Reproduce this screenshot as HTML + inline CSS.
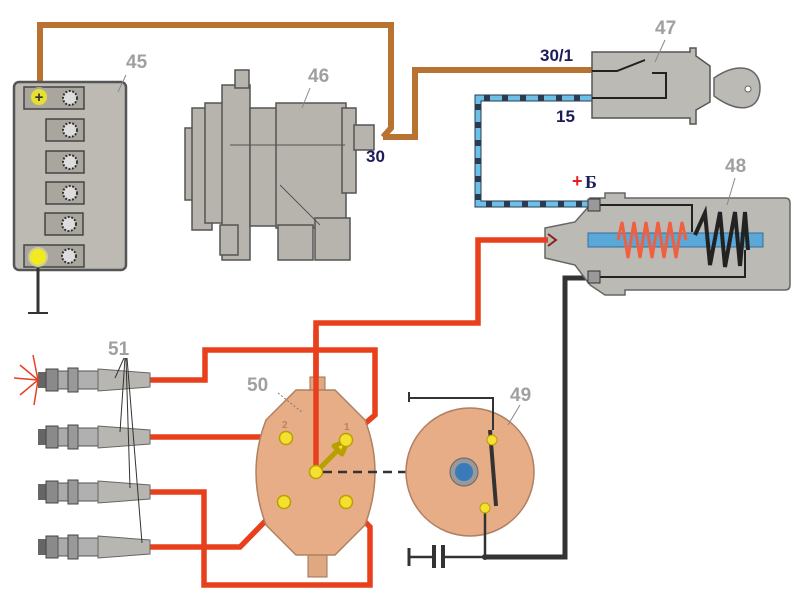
<!DOCTYPE html>
<html><head><meta charset="utf-8"><style>
html,body{margin:0;padding:0;background:#fff;}
svg{display:block;}
.n{font-family:"Liberation Sans",sans-serif;font-weight:bold;font-size:19px;fill:#a0a0a0;}
.t{font-family:"Liberation Sans",sans-serif;font-weight:bold;font-size:17px;fill:#1c1c5a;}
</style></head><body>
<svg width="800" height="600" viewBox="0 0 800 600" xmlns="http://www.w3.org/2000/svg">
<defs>
<g id="plug">
<rect x="38" y="-8" width="10" height="16" fill="#666"/>
<rect x="46" y="-11" width="12" height="22" fill="#8a8a8a" stroke="#444"/>
<rect x="58" y="-9" width="10" height="18" fill="#aaa" stroke="#555"/>
<rect x="68" y="-12" width="10" height="24" fill="#999" stroke="#444"/>
<rect x="78" y="-9" width="20" height="18" fill="#b0b0b0" stroke="#555"/>
<path d="M98,-11 L150,-7 L150,7 L98,11 Z" fill="#b8b6b0" stroke="#666"/>
</g>
</defs>
<!-- brown wires -->
<g fill="none" stroke="#b87333" stroke-width="6" stroke-linejoin="miter">
<polyline points="40,90 40,25 391,25 391,128 383,137"/>
<polyline points="383,137 415,137 415,70 592,70"/>
</g>
<!-- blue wire -->
<polyline points="592,98 478,98 478,204 592,204" fill="none" stroke="#2a3a50" stroke-width="7"/>
<polyline points="592,98 478,98 478,204 592,204" fill="none" stroke="#6cc0e8" stroke-width="5" stroke-dasharray="12,6"/>
<!-- dark wire coil to breaker -->
<polyline points="595,278 565,278 565,557 485,557" fill="none" stroke="#333" stroke-width="5"/>

<!-- battery -->
<rect x="14" y="82" width="112" height="188" rx="5" fill="#bdbab3" stroke="#555" stroke-width="2.5"/>
<g fill="#aaa69e" stroke="#444" stroke-width="1.5">
<rect x="24" y="87" width="60" height="22"/><rect x="46" y="119" width="38" height="22"/>
<rect x="46" y="151" width="38" height="22"/><rect x="46" y="182" width="38" height="22"/>
<rect x="45" y="213" width="38" height="22"/><rect x="24" y="245" width="60" height="22"/>
</g>
<g fill="#ddd" stroke="#333" stroke-width="2" stroke-dasharray="2,1.5">
<circle cx="70" cy="98" r="7"/><circle cx="70" cy="130" r="7"/><circle cx="70" cy="162" r="7"/>
<circle cx="70" cy="193" r="7"/><circle cx="69" cy="224" r="7"/><circle cx="69" cy="256" r="7"/>
</g>
<circle cx="39" cy="97" r="9" fill="#e8e030" stroke="#aa9" stroke-width="2"/>
<text x="39" y="102" text-anchor="middle" font-family="Liberation Sans" font-weight="bold" font-size="15" fill="#333">+</text>
<circle cx="38" cy="257" r="9" fill="#f2ea20" stroke="#cc9" stroke-width="2"/>
<line x1="38" y1="268" x2="38" y2="312" stroke="#333" stroke-width="3"/>
<line x1="28" y1="313" x2="48" y2="313" stroke="#333" stroke-width="2"/>
<text class="n" x="126" y="68">45</text><line x1="126" y1="75" x2="118" y2="92" stroke="#888"/>

<!-- alternator -->
<g fill="#b7b4ad" stroke="#555" stroke-width="1.5">
<rect x="185" y="128" width="10" height="72"/>
<rect x="192" y="108" width="20" height="122"/>
<rect x="205" y="103" width="20" height="120"/>
<rect x="222" y="85" width="28" height="175"/>
<rect x="235" y="70" width="14" height="18"/>
<rect x="250" y="108" width="30" height="118"/>
<rect x="276" y="103" width="70" height="125"/>
<rect x="342" y="108" width="14" height="85"/>
<rect x="354" y="125" width="20" height="25"/>
<rect x="278" y="225" width="35" height="35"/>
<rect x="315" y="218" width="35" height="42"/>
<rect x="220" y="225" width="18" height="30"/>
</g>
<line x1="230" y1="145" x2="345" y2="145" stroke="#555"/>
<line x1="280" y1="185" x2="320" y2="225" stroke="#555"/>
<text class="n" x="308" y="82">46</text><line x1="310" y1="88" x2="302" y2="108" stroke="#888"/>
<text class="t" x="366" y="162">30</text>

<!-- ignition switch 47 -->
<path d="M592,52 L690,52 L690,48 L696,48 L696,56 L710,66 L710,102 L696,110 L696,124 L690,124 L690,118 L592,118 Z" fill="#bcbab4" stroke="#555" stroke-width="1.5"/>
<path d="M714,78 C740,60 760,68 760,88 C760,110 740,115 714,96 Z" fill="#bcbab4" stroke="#666" stroke-width="1.5"/>
<circle cx="748" cy="89" r="3" fill="#fff" stroke="#666"/>
<polyline points="592,71 617,71 645,60" fill="none" stroke="#222" stroke-width="2"/>
<polyline points="652,73 666,73 666,98 592,98" fill="none" stroke="#222" stroke-width="2"/>
<text class="t" x="540" y="61">30/1</text>
<text class="t" x="556" y="122">15</text>
<text class="n" x="655" y="34">47</text><line x1="665" y1="40" x2="655" y2="62" stroke="#888"/>

<!-- coil 48 -->
<path d="M590,198 L605,198 L605,193 L625,193 L625,198 L785,198 Q790,198 790,203 L790,285 Q790,290 785,290 L625,290 L625,295 L605,295 L590,285 L575,265 L545,258 L545,228 L575,222 L590,205 Z" fill="#bcbab4" stroke="#666" stroke-width="1.5"/>
<polyline points="598,205 692,205 692,232" fill="none" stroke="#222" stroke-width="2"/>
<polyline points="598,277 745,277 745,250" fill="none" stroke="#222" stroke-width="2"/>
<rect x="588" y="233" width="175" height="14" fill="#5aa8d8" stroke="#3070a0"/>
<polyline points="695,235 705,213 710,265 720,212 725,267 735,212 740,266 745,212 748,250" fill="none" stroke="#222" stroke-width="4"/>
<polyline points="618,240 622,222 628,258 634,222 640,258 646,222 652,258 658,222 664,258 670,222 676,258 682,222 686,240" fill="none" stroke="#f06040" stroke-width="3"/>
<rect x="588" y="199" width="12" height="12" fill="#999" stroke="#333"/>
<rect x="588" y="271" width="12" height="12" fill="#999" stroke="#333"/>
<text x="572" y="187" font-family="Liberation Sans" font-weight="bold" font-size="18" fill="#e02020">+</text>
<text x="585" y="188" font-family="Liberation Serif" font-weight="bold" font-size="18" fill="#1c1c5a">Б</text>
<text class="n" x="725" y="172">48</text><line x1="735" y1="178" x2="727" y2="205" stroke="#888"/>

<!-- red HT wires -->
<g fill="none" stroke="#e8401c" stroke-width="5.5" stroke-linejoin="miter">
<polyline points="548,240 478,240 478,323 316,323 316,472"/>
<polyline points="150,380 205,380 205,350 375,350 375,415 346,440"/>
<polyline points="150,437 286,437"/>
<polyline points="150,492 204,492 204,585 370,585 370,527 346,502"/>
<polyline points="150,547 240,547 284,502"/>
</g>
<path d="M548,234 L556,240 L548,246" fill="none" stroke="#822" stroke-width="2"/>

<!-- distributor 50 -->
<rect x="310" y="377" width="15" height="16" fill="#e0a880" stroke="#a07050"/>
<rect x="308" y="553" width="19" height="24" fill="#e0a880" stroke="#a07050"/>
<path d="M296,390 L335,390 L365,420 Q385,472 365,525 L335,555 L296,555 L266,525 Q246,472 266,420 Z" fill="#e6ad86" stroke="#b08060" stroke-width="1.5"/>
<polyline points="316,330 316,472" fill="none" stroke="#e8401c" stroke-width="5.5"/>
<path d="M316,472 L338,450 L334,446 L348,440 L342,454 L338,450" fill="#f5e030" stroke="#b8a000" stroke-width="5" stroke-linejoin="round"/>
<g fill="#f5e030" stroke="#b8a000" stroke-width="1.5">
<circle cx="286" cy="438" r="6.5"/><circle cx="346" cy="440" r="6.5"/>
<circle cx="316" cy="472" r="6.5"/><circle cx="284" cy="502" r="6.5"/><circle cx="346" cy="502" r="6.5"/>
</g>
<text x="282" y="428" font-family="Liberation Sans" font-size="10" font-weight="bold" fill="#c08060">2</text>
<text x="344" y="430" font-family="Liberation Sans" font-size="10" font-weight="bold" fill="#c08060">1</text>
<line x1="323" y1="472" x2="455" y2="472" stroke="#333" stroke-width="2.5" stroke-dasharray="9,6"/>
<text class="n" x="247" y="391">50</text><line x1="278" y1="393" x2="303" y2="413" stroke="#777" stroke-dasharray="2,2"/>

<!-- breaker 49 -->
<circle cx="470" cy="472" r="64" fill="#e6ad86" stroke="#b08060" stroke-width="1.5"/>
<circle cx="464" cy="472" r="14" fill="#999" stroke="#666"/>
<circle cx="464" cy="472" r="9" fill="#3a7ab8"/>
<polyline points="409,392 409,402 409,398 493,398 493,430" fill="none" stroke="#333" stroke-width="2"/>
<line x1="490" y1="430" x2="496" y2="506" stroke="#333" stroke-width="4"/>
<line x1="485" y1="508" x2="485" y2="557" stroke="#333" stroke-width="2.5"/>
<circle cx="492" cy="440" r="5" fill="#f5e030" stroke="#b8a000"/>
<circle cx="485" cy="508" r="5" fill="#f5e030" stroke="#b8a000"/>
<line x1="409" y1="548" x2="409" y2="566" stroke="#333" stroke-width="3"/>
<line x1="409" y1="557" x2="432" y2="557" stroke="#333" stroke-width="2.5"/>
<rect x="432" y="545" width="4" height="23" fill="#333"/><rect x="441" y="545" width="4" height="23" fill="#333"/>
<line x1="445" y1="557" x2="485" y2="557" stroke="#333" stroke-width="2.5"/>
<circle cx="485" cy="557" r="3" fill="#333"/>
<text class="n" x="510" y="401">49</text><line x1="520" y1="405" x2="508" y2="425" stroke="#888"/>

<!-- spark plugs -->
<use href="#plug" transform="translate(0,380)"/>
<use href="#plug" transform="translate(0,437)"/>
<use href="#plug" transform="translate(0,492)"/>
<use href="#plug" transform="translate(0,547)"/>
<g stroke="#e84020" stroke-width="1.5">
<line x1="38" y1="380" x2="14" y2="378"/><line x1="38" y1="380" x2="20" y2="365"/>
<line x1="38" y1="380" x2="20" y2="395"/><line x1="38" y1="380" x2="33" y2="355"/>
<line x1="38" y1="380" x2="34" y2="405"/>
</g>
<text class="n" x="108" y="355">51</text>
<g stroke="#333" stroke-width="1">
<line x1="125" y1="358" x2="120" y2="432"/><line x1="126" y1="358" x2="130" y2="488"/>
<line x1="127" y1="358" x2="142" y2="543"/><line x1="124" y1="358" x2="115" y2="378"/>
</g>
</svg>
</body></html>
